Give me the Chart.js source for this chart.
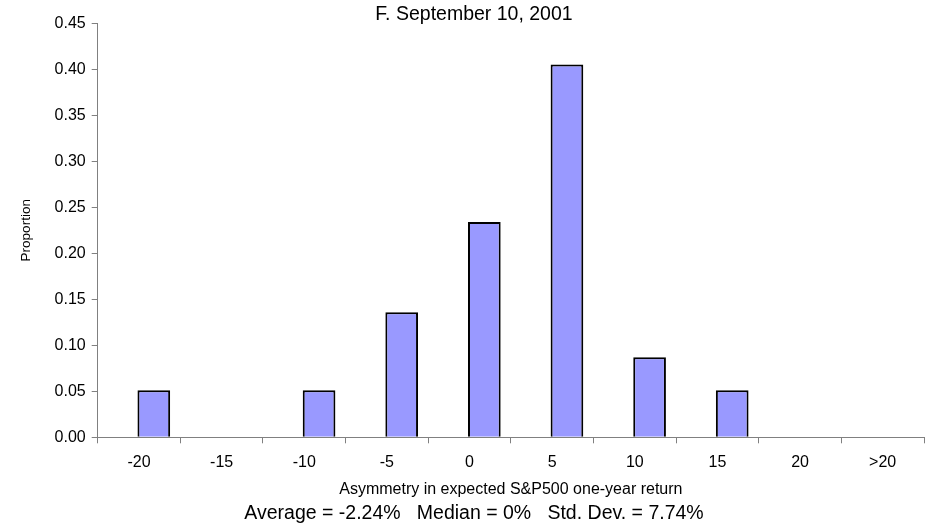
<!DOCTYPE html>
<html>
<head>
<meta charset="utf-8">
<script src="https://cdn.jsdelivr.net/npm/chart.js@4/dist/chart.umd.min.js"></script>
<style>
  html, body { margin: 0; padding: 0; background: #ffffff; }
  #wrap { width: 936px; height: 530px; position: relative; }
</style>
</head>
<body>
<div id="wrap"><canvas id="c" width="936" height="530"></canvas></div>
<script>
const categories = ['-20', '-15', '-10', '-5', '0', '5', '10', '15', '20', '>20'];
const proportions = [0.051, 0, 0.051, 0.136, 0.234, 0.405, 0.087, 0.051, 0, 0];
const emptySeries = [null, null, null, null, null, null, null, null, null, null];
const yTickMin = 0;
const yTickMax = 0.45;
const yTickStep = 0.05;
const chartTitle = 'F. September 10, 2001';
const xTitle = 'Asymmetry in expected S&P500 one-year return';
const yTitle = 'Proportion';
const footerText = 'Average = -2.24%   Median = 0%   Std. Dev. = 7.74%';

const FONT = '"Liberation Sans", Arial, Helvetica, sans-serif';
const AXIS = '#808080';

new Chart(document.getElementById('c'), {
  type: 'bar',
  data: {
    labels: categories,
    datasets: [
      { label: 'spacer', data: emptySeries, backgroundColor: 'rgba(0,0,0,0)', borderWidth: 0 },
      {
        label: 'Proportion',
        data: proportions,
        backgroundColor: '#9999FF',
        borderColor: '#000000',
        borderWidth: 2
      }
    ]
  },
  options: {
    responsive: false,
    animation: false,
    categoryPercentage: 0.716,
    barPercentage: 1.105,
    layout: { padding: { left: 24, right: 12, top: 0, bottom: 0 } },
    plugins: {
      legend: { display: false },
      tooltip: { enabled: false },
      title: {
        display: true,
        text: chartTitle,
        color: '#000',
        font: { family: FONT, size: 19.5, weight: 'normal', lineHeight: 1.0 },
        padding: { top: 4.5, bottom: -0.8 }
      },
      subtitle: {
        display: true,
        position: 'bottom',
        text: footerText,
        color: '#000',
        font: { family: FONT, size: 19.5, weight: 'normal', lineHeight: 1.2 },
        padding: { top: 3.8, bottom: 4.3 }
      }
    },
    scales: {
      x: {
        grid: { display: true, drawOnChartArea: false, drawTicks: true, tickLength: 6, color: AXIS, offset: true },
        border: { display: true, color: AXIS, width: 1 },
        ticks: { color: '#000', font: { family: FONT, size: 16 }, padding: 10, maxRotation: 0, autoSkip: false },
        title: {
          display: true, text: xTitle, color: '#000',
          font: { family: FONT, size: 16, lineHeight: 1.0 },
          padding: { top: -1, bottom: 1 }
        }
      },
      y: {
        min: yTickMin,
        max: yTickMax,
        grid: { display: true, drawOnChartArea: false, drawTicks: true, tickLength: 6, color: AXIS },
        border: { display: true, color: AXIS, width: 1 },
        ticks: {
          stepSize: yTickStep,
          color: '#000',
          font: { family: FONT, size: 16 },
          padding: 6,
          callback: (v) => Number(v).toFixed(2)
        },
        title: {
          display: true, text: yTitle, color: '#000',
          font: { family: FONT, size: 13.5 },
          padding: { top: -6, bottom: 0 }
        },
        afterFit: (scale) => { scale.width = 73.7; }
      }
    }
  }
});
</script>
</body>
</html>
